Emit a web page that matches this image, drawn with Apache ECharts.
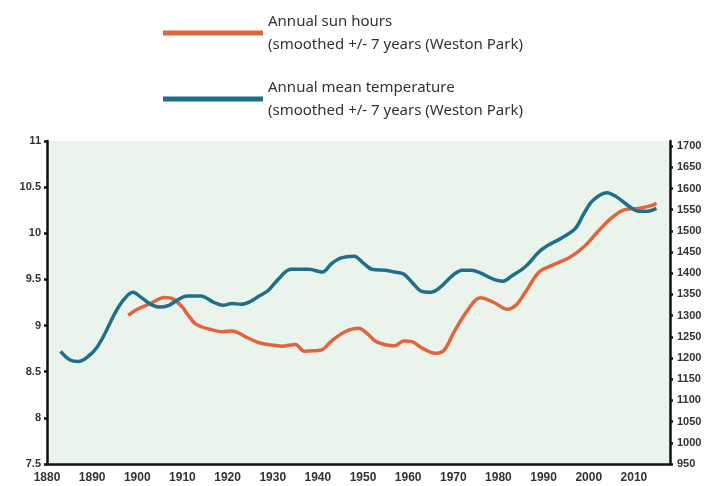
<!DOCTYPE html>
<html>
	<head>
		<meta charset="utf-8">
		<title>Weston Park sun hours and temperature</title>
		<script src="https://cdn.jsdelivr.net/npm/echarts@6/dist/echarts.min.js"></script>
		<style type="text/css">
			html, body { margin: 0; padding: 0; background: #fff; }
			#chart { width: 710px; height: 486px; }
		</style>
	</head>
	<body>
		<div id="chart"></div>
		<script>
			// 年平均气温 (左轴)
			var tempYears = [1883, 1885, 1887, 1889, 1891, 1893, 1895, 1897, 1899, 1901, 1903, 1905, 1907, 1909, 1911, 1914, 1917, 1919, 1921, 1923,
				1925, 1927, 1929, 1931, 1934, 1936, 1938, 1941, 1943, 1945, 1948, 1950, 1952, 1955, 1957, 1959, 1961, 1963, 1965, 1967,
				1970, 1972, 1974, 1976, 1979, 1981, 1983, 1986, 1989, 1991, 1994, 1997, 1999, 2001, 2004, 2006, 2009, 2011, 2013, 2015];
			var tempValues = [8.72, 8.63, 8.61, 8.66, 8.76, 8.93, 9.13, 9.28, 9.36, 9.30, 9.23, 9.20, 9.22, 9.28, 9.32, 9.32, 9.25, 9.22, 9.24, 9.23,
				9.26, 9.32, 9.38, 9.49, 9.61, 9.61, 9.61, 9.58, 9.67, 9.73, 9.75, 9.68, 9.61, 9.60, 9.58, 9.56, 9.46, 9.37, 9.36, 9.41,
				9.55, 9.60, 9.60, 9.57, 9.50, 9.48, 9.54, 9.64, 9.80, 9.87, 9.95, 10.05, 10.22, 10.36, 10.44, 10.40, 10.29, 10.24, 10.24, 10.27];

			// 年日照时数 (右轴)
			var sunYears = [1898, 1900, 1903, 1906, 1908, 1910, 1911, 1913, 1916, 1919, 1921, 1924, 1927, 1929, 1932, 1935, 1937, 1939, 1941, 1943,
				1946, 1949, 1951, 1953, 1957, 1959, 1961, 1963, 1966, 1968, 1970, 1973, 1976, 1979, 1982, 1984, 1986, 1989, 1992, 1996,
				1999, 2002, 2005, 2008, 2011, 2014, 2015];
			var sunValues = [1301, 1315, 1329, 1343, 1339, 1320, 1305, 1280, 1268, 1262, 1264, 1250, 1236, 1232, 1228, 1232, 1216, 1217, 1220, 1240,
				1262, 1270, 1257, 1238, 1229, 1240, 1238, 1224, 1211, 1219, 1258, 1310, 1342, 1331, 1315, 1326, 1356, 1403, 1419, 1439,
				1463, 1498, 1530, 1550, 1553, 1560, 1565];

			var sunName = 'Annual sun hours\n(smoothed +/- 7 years (Weston Park)';
			var tempName = 'Annual mean temperature\n(smoothed +/- 7 years (Weston Park)';

			function pairs(xs, ys) {
				var out = [];
				for (var i = 0; i < xs.length; i++) {
					out.push([xs[i], ys[i]]);
				}
				return out;
			}

			var chart = echarts.init(document.getElementById('chart'));
			var axisLabelStyle = {
				color: '#333',
				fontFamily: 'Liberation Sans',
				fontWeight: 'bold',
				fontSize: 11,
				formatter: function(v) { return String(v); }
			};

			chart.setOption({
				animation: false,
				color: ['#e2643b', '#1f6f8b'],
				legend: {
					orient: 'vertical',
					left: 158,
					top: 5,
					itemWidth: 100,
					itemHeight: 5,
					itemGap: 20,
					icon: 'rect',
					data: [sunName, tempName],
					textStyle: {
						color: '#333',
						fontFamily: 'Noto Sans',
						fontSize: 15,
						lineHeight: 23,
						padding: [0, 0, 0, 0]
					}
				},
				grid: {
					left: 47,
					right: 40,
					top: 141,
					bottom: 22,
					show: true,
					backgroundColor: '#eaf4ed',
					borderWidth: 0
				},
				xAxis: {
					type: 'value',
					min: 1880,
					max: 2018,
					interval: 10,
					axisLine: { lineStyle: { color: '#111', width: 2.5 } },
					axisTick: { show: false },
					splitLine: { show: false },
					axisLabel: {
						color: '#333',
						fontFamily: 'Liberation Sans',
						fontWeight: 'bold',
						fontSize: 12,
						margin: 8,
						showMaxLabel: false,
						formatter: function(v) { return String(v); }
					}
				},
				yAxis: [{
						type: 'value',
						min: 7.5,
						max: 11,
						interval: 0.5,
						axisLine: { show: true, lineStyle: { color: '#111', width: 2.5 } },
						axisTick: { show: true, length: 3, lineStyle: { color: '#111', width: 2.5 } },
						splitLine: { show: false },
						axisLabel: Object.assign({ margin: 6 }, axisLabelStyle)
					},
					{
						type: 'value',
						min: 950,
						max: 1712,
						interval: 50,
						axisLine: { show: true, lineStyle: { color: '#111', width: 2.5 } },
						axisTick: { show: true, length: 3, lineStyle: { color: '#111', width: 2.5 } },
						splitLine: { show: false },
						axisLabel: Object.assign({ margin: 7, showMaxLabel: false }, axisLabelStyle)
					}
				],
				series: [{
						name: sunName,
						type: 'line',
						yAxisIndex: 1,
						smooth: 0.35,
						symbol: 'none',
						lineStyle: { width: 3.5 },
						data: pairs(sunYears, sunValues)
					},
					{
						name: tempName,
						type: 'line',
						yAxisIndex: 0,
						smooth: 0.35,
						symbol: 'none',
						lineStyle: { width: 3.5 },
						data: pairs(tempYears, tempValues)
					}
				]
			});
		</script>
	</body>
</html>
